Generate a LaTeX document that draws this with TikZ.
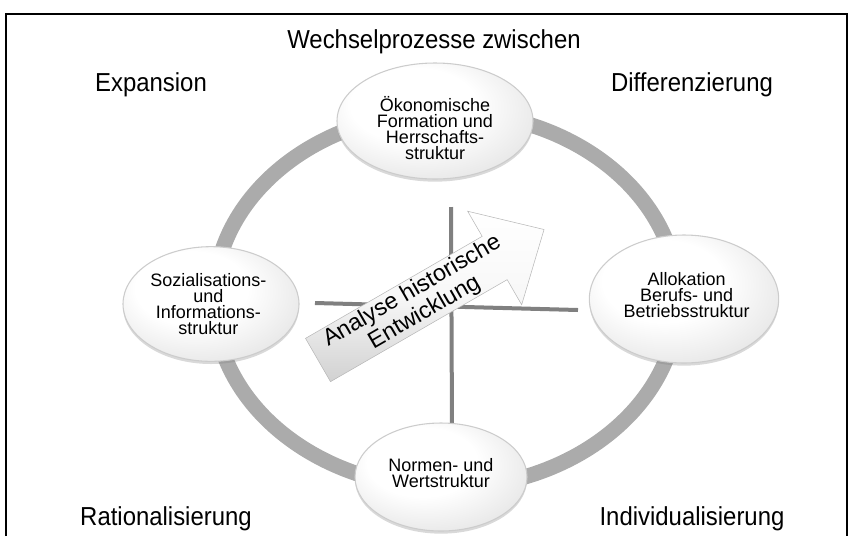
\documentclass[tikz,border=0pt]{standalone}
\usepackage{fontspec}
\setmainfont{Liberation Sans}
\newfontfamily\sidefont[FakeStretch=0.92]{Liberation Sans}
\usetikzlibrary{shapes.geometric,shadows}

\pgfdeclareradialshading{ovalshade}{\pgfpoint{-8bp}{10bp}}{%
    color(0bp)=(white); color(16bp)=(white); color(52bp)=(black!22)}

\begin{document}
\begin{tikzpicture}[x=0.75pt, y=-0.75pt,
    oval/.style={ellipse, draw=black!20, line width=0.8pt, shading=ovalshade,
        drop shadow={shadow xshift=0pt, shadow yshift=-2pt, opacity=0.3}},
    ovaltext/.style={align=center, inner sep=0pt, font=\fontsize{13.5}{12}\selectfont},
    sidetext/.style={font=\sidefont\fontsize{19.5}{22}\selectfont},
    ringline/.style={line width=11.5pt, draw=black!33},
    axisline/.style={line width=3pt, draw=black!50}
]
    \useasboundingbox (0,0) rectangle (855,536);
    \draw[line width=1.5pt] (6,536) |- (847,14) -- (847,536);

    % ring and cross
    \draw[ringline] (446,300) ellipse [x radius=174pt, y radius=141pt];
    \coordinate (hleft) at (315,303);
    \coordinate (hright) at (578,310);
    \coordinate (vtop) at (451,207);
    \coordinate (vbottom) at (452,430);
    \draw[axisline] (hleft) -- (hright);
    \draw[axisline] (vtop) -- (vbottom);

    % arrow
    \begin{scope}[shift={(318,360)}, rotate=30]
        \draw[draw=black!28, top color=white, bottom color=black!18, middle color=black!3]
            (0,-25) -- (204,-25) -- (204,-54) -- (261,0)
            -- (204,54) -- (204,25) -- (0,25) -- cycle;
        \node[rotate=30, align=center, font=\fontsize{17.5}{18.5}\selectfont] (analyse) at (116,0)
            {Analyse historische\\Entwicklung};
    \end{scope}

    % the four structures
    \node[oval, minimum width=147pt, minimum height=87pt] (oekon) at (435,121) {};
    \node[oval, minimum width=132pt, minimum height=86pt] (sozial) at (211,304) {};
    \node[oval, minimum width=142pt, minimum height=96pt] (alloka) at (684,299) {};
    \node[oval, minimum width=129pt, minimum height=81pt] (normen) at (441,477) {};

    \node[ovaltext, yshift=-5pt] (oekon-text) at (oekon) {Ökonomische\\Formation und\\Herrschafts-\\struktur};
    \node[ovaltext, xshift=-2pt] (sozial-text) at (sozial) {Sozialisations-\\und\\Informations-\\struktur};
    \node[ovaltext, xshift=2pt, yshift=3pt] (alloka-text) at (alloka) {Allokation\\Berufs- und\\Betriebsstruktur};
    \node[ovaltext, yshift=3pt] (normen-text) at (normen) {Normen- und\\Wertstruktur};

    % processes
    \node[sidetext] (wechsel) at (434,42) {Wechselprozesse zwischen};
    \node[sidetext] (expansion) at (151,85) {Expansion};
    \node[sidetext] (differenz) at (692,85) {Differenzierung};
    \node[sidetext] (rational) at (166,519) {Rationalisierung};
    \node[sidetext] (individual) at (692,519) {Individualisierung};
\end{tikzpicture}
\end{document}
